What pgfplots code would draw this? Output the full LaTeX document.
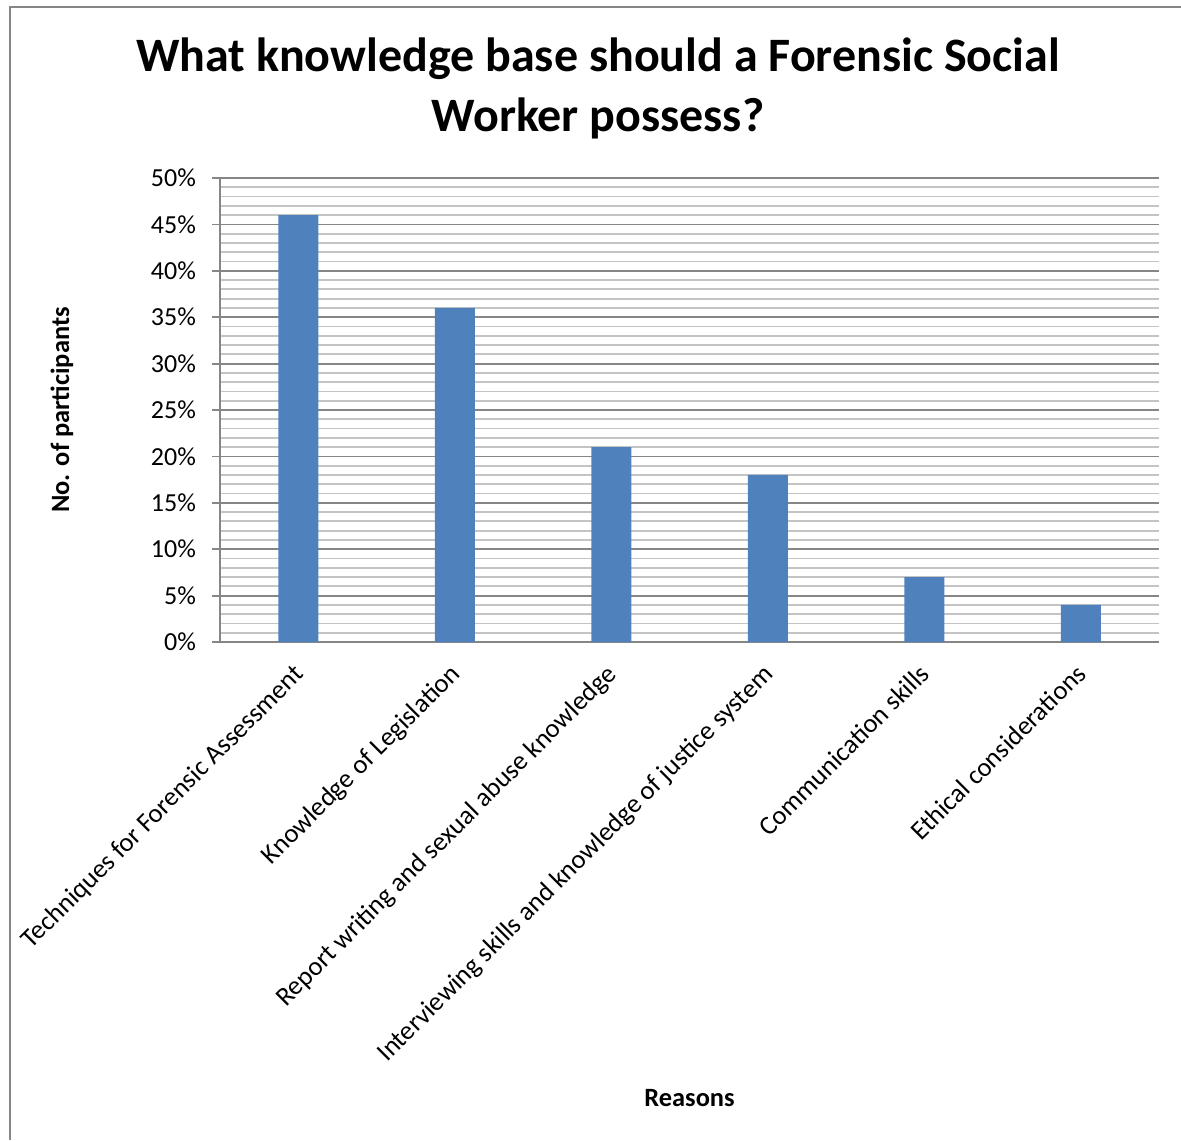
\documentclass[border=0pt]{standalone}
\usepackage{pgfplots}
\pgfplotsset{compat=1.18}
\usepackage{fontspec}
\setmainfont{Carlito}
\definecolor{barblue}{HTML}{4F81BD}
\definecolor{majgrid}{HTML}{868686}
\definecolor{mingrid}{HTML}{C4C4C4}
\begin{document}
\begin{tikzpicture}
\useasboundingbox (0pt,0pt) rectangle (590.5pt,570pt);
\draw[majgrid, line width=1pt] (5pt,0pt) -- (5pt,566.5pt) -- (590.5pt,566.5pt);
\node[align=center, font=\fontsize{24}{30}\selectfont\bfseries] at (299pt,526pt) {What knowledge base should a Forensic Social\\Worker possess?};
\node[rotate=90, font=\fontsize{13.2}{15}\selectfont\bfseries] at (31pt,365pt) {No. of participants};
\node[font=\fontsize{13.2}{15}\selectfont\bfseries] at (344.75pt,21pt) {Reasons};
\begin{axis}[
  at={(110pt,249pt)}, anchor=south west,
  scale only axis, width=469.5pt, height=232pt,
  xmin=-0.5, xmax=5.5, ymin=0, ymax=50,
  axis lines=left,
  axis line style={-, draw=majgrid, line width=1pt},
  ytick={0,5,...,50},
  minor y tick num=4,
  ymajorgrids, yminorgrids,
  major grid style={draw=majgrid, line width=0.9pt},
  minor grid style={draw=mingrid, line width=0.9pt},
  tick align=outside,
  major tick length=4pt,
  minor tick length=0pt,
  ytick style={draw=majgrid, line width=0.9pt},
  xtick={0,1,2,3,4,5},
  xtick style={draw=none},
  xticklabels={Techniques for Forensic Assessment, Knowledge of Legislation, Report writing and sexual abuse knowledge, Interviewing skills and knowledge of justice system, Communication skills, Ethical considerations},
  xticklabel style={rotate=45, anchor=north east, font=\fontsize{13.3}{15}\selectfont, inner sep=2pt, xshift=-4.5pt, yshift=0pt},
  yticklabel={\pgfmathprintnumber[fixed,precision=0]{\tick}\%},
  yticklabel style={font=\fontsize{13}{15}\selectfont, xshift=-4.5pt},
  /pgf/number format/assume math mode=true,
  clip=false,
]
\addplot[ybar, bar width=20pt, fill=barblue, draw=none] coordinates {(0,46) (1,36) (2,21) (3,18) (4,7) (5,4)};
\end{axis}
\end{tikzpicture}
\end{document}
